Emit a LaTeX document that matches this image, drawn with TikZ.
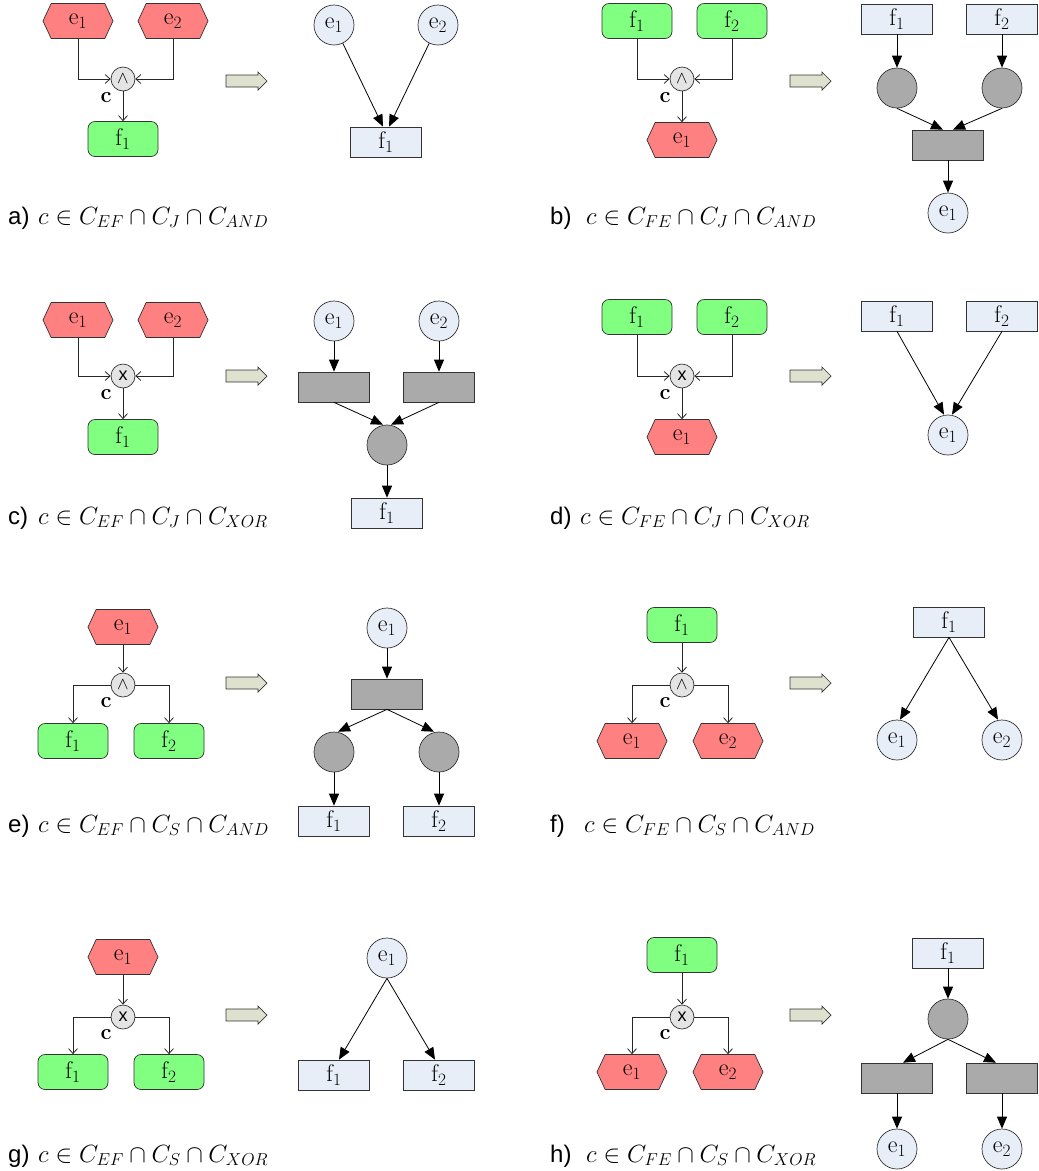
\documentclass[tikz,border=0pt]{standalone}
\usepackage{fontspec}
\newfontfamily\arial{Liberation Sans}
\usetikzlibrary{shapes.symbols,arrows.meta,calc}
\definecolor{pl}{HTML}{E8EEF8}
\definecolor{gr}{HTML}{AAAAAA}
\definecolor{hexred}{HTML}{FF8080}
\definecolor{fgreen}{HTML}{80FF80}
\definecolor{cgray}{HTML}{E4E4E4}
\definecolor{arrf}{HTML}{DDE1CD}
\begin{document}
\begin{tikzpicture}[x=1pt,y=-1pt,
  nfont/.style={font=\fontsize{24}{28}\selectfont},
  hexa/.style={shape=signal, signal to=east and west, signal pointer angle=130, draw=black!80, line width=0.7pt, fill=hexred, minimum width=70pt, minimum height=35pt, inner sep=0pt, nfont},
  func/.style={rectangle, rounded corners=7pt, draw=black!80, line width=0.7pt, fill=fgreen, minimum width=70pt, minimum height=35pt, inner sep=0pt, nfont},
  conn/.style={circle, draw=black!80, line width=0.7pt, fill=cgray, minimum size=24pt, inner sep=0pt, font=\fontsize{18}{20}\selectfont},
  place/.style={circle, draw=black!80, line width=0.7pt, fill=pl, minimum size=40pt, inner sep=0pt, nfont},
  gplace/.style={place, fill=gr},
  trans/.style={rectangle, draw=black!80, line width=0.7pt, fill=pl, minimum width=71pt, minimum height=30pt, inner sep=0pt, nfont},
  gtrans/.style={trans, fill=gr},
  clab/.style={inner sep=0pt, font=\fontsize{22}{24}\selectfont\bfseries},
  larr/.style={draw=black!85, line width=0.8pt, -{Straight Barb[length=5pt,width=9pt]}},
  parr/.style={draw=black, line width=0.8pt, -{Triangle[length=12pt,width=10pt]}},
  lab/.style={anchor=base west, inner sep=0pt, font=\fontsize{24}{28}\selectfont},
  bigarr/.pic={\draw[fill=arrf, draw=black!80, line width=0.7pt] (-20,-6) -- (12,-6) -- (12,-9) -- (21,0) -- (12,9) -- (12,6) -- (-20,6) -- cycle;}
]
\useasboundingbox (0,0) rectangle (1039,1171);

% ---------- panel a ----------
\node[hexa] (a1) at (78,21) {$\mathrm{e}_1$};
\node[hexa] (a2) at (173,21) {$\mathrm{e}_2$};
\node[conn] (ac) at (123,79) {$\wedge$};
\node[func] (a3) at (123,139) {$\mathrm{f}_1$};
\node[clab] (acl) at (106,98) {c};
\draw[larr] (a1.south) |- (ac.west);
\draw[larr] (a2.south) |- (ac.east);
\draw[larr] (ac.south) -- (a3.north);
\pic at (246,81) {bigarr};
\node[place] (ap1) at (334,25) {$\mathrm{e}_1$};
\node[place] (ap2) at (438,25) {$\mathrm{e}_2$};
\node[trans] (at1) at (386,142) {$\mathrm{f}_1$};
\draw[parr] (ap1) -- ([xshift=-3pt]at1.north);
\draw[parr] (ap2) -- ([xshift=3pt]at1.north);
\node[lab] (la) at (8,224) {\arial a)};
\node[lab] (lam) at (38,224) {$c\in C_{EF}\cap C_J\cap C_{AND}$};

% ---------- panel b ----------
\node[func] (b1) at (637,21) {$\mathrm{f}_1$};
\node[func] (b2) at (732,21) {$\mathrm{f}_2$};
\node[conn] (bc) at (682,79) {$\wedge$};
\node[hexa] (b3) at (682,140) {$\mathrm{e}_1$};
\node[clab] (bcl) at (665,98) {c};
\draw[larr] (b1.south) |- (bc.west);
\draw[larr] (b2.south) |- (bc.east);
\draw[larr] (bc.south) -- (b3.north);
\pic at (810,81) {bigarr};
\node[trans] (bt1) at (897,19) {$\mathrm{f}_1$};
\node[trans] (bt2) at (1002,19) {$\mathrm{f}_2$};
\node[gplace] (bg1) at (897,88) {};
\node[gplace] (bg2) at (1002,88) {};
\node[gtrans] (bgt) at (948,145) {};
\node[place] (bp) at (948,213) {$\mathrm{e}_1$};
\draw[parr] (bt1) -- (bg1);
\draw[parr] (bt2) -- (bg2);
\draw[parr] (bg1.south) -- ([xshift=-5pt]bgt.north);
\draw[parr] (bg2.south) -- ([xshift=5pt]bgt.north);
\draw[parr] (bgt) -- (bp);
\node[lab] (lb) at (550,224) {\arial b)};
\node[lab] (lbm) at (586,224) {$c\in C_{FE}\cap C_J\cap C_{AND}$};

% ---------- panel c ----------
\node[hexa] (c1) at (78,320) {$\mathrm{e}_1$};
\node[hexa] (c2) at (173,320) {$\mathrm{e}_2$};
\node[conn] (cc) at (123,376) {\arial x};
\node[func] (c3) at (123,437) {$\mathrm{f}_1$};
\node[clab] (ccl) at (106,395) {c};
\draw[larr] (c1.south) |- (cc.west);
\draw[larr] (c2.south) |- (cc.east);
\draw[larr] (cc.south) -- (c3.north);
\pic at (246,376) {bigarr};
\node[place] (cp1) at (334,321) {$\mathrm{e}_1$};
\node[place] (cp2) at (439,321) {$\mathrm{e}_2$};
\node[gtrans] (ct1) at (334,387) {};
\node[gtrans] (ct2) at (439,387) {};
\node[gplace] (cg) at (387,445) {};
\node[trans] (cf) at (387,513) {$\mathrm{f}_1$};
\draw[parr] (cp1) -- (ct1);
\draw[parr] (cp2) -- (ct2);
\draw[parr] (ct1.south) -- ([xshift=-4pt]cg.north);
\draw[parr] (ct2.south) -- ([xshift=4pt]cg.north);
\draw[parr] (cg) -- (cf);
\node[lab] (lc) at (8,524) {\arial c)};
\node[lab] (lcm) at (38,524) {$c\in C_{EF}\cap C_J\cap C_{XOR}$};

% ---------- panel d ----------
\node[func] (d1) at (637,317) {$\mathrm{f}_1$};
\node[func] (d2) at (732,317) {$\mathrm{f}_2$};
\node[conn] (dc) at (682,376) {\arial x};
\node[hexa] (d3) at (682,437) {$\mathrm{e}_1$};
\node[clab] (dcl) at (665,395) {c};
\draw[larr] (d1.south) |- (dc.west);
\draw[larr] (d2.south) |- (dc.east);
\draw[larr] (dc.south) -- (d3.north);
\pic at (810,376) {bigarr};
\node[trans] (dt1) at (897,316) {$\mathrm{f}_1$};
\node[trans] (dt2) at (1002,316) {$\mathrm{f}_2$};
\node[place] (dp) at (948,435) {$\mathrm{e}_1$};
\draw[parr] (dt1.south) -- ([xshift=-4pt]dp.north);
\draw[parr] (dt2.south) -- ([xshift=4pt]dp.north);
\node[lab] (ld) at (550,524) {\arial d)};
\node[lab] (ldm) at (580,524) {$c\in C_{FE}\cap C_J\cap C_{XOR}$};

% ---------- panel e ----------
\node[hexa] (e1) at (123,627) {$\mathrm{e}_1$};
\node[conn] (ec) at (123,685) {$\wedge$};
\node[func] (e2) at (73,741) {$\mathrm{f}_1$};
\node[func] (e3) at (169,741) {$\mathrm{f}_2$};
\node[clab] (ecl) at (106,703) {c};
\draw[larr] (e1.south) -- (ec.north);
\draw[larr] (ec.west) -| (e2.north);
\draw[larr] (ec.east) -| (e3.north);
\pic at (246,683) {bigarr};
\node[place] (ep) at (387,628) {$\mathrm{e}_1$};
\node[gtrans] (et) at (387,694) {};
\node[gplace] (eg1) at (334,752) {};
\node[gplace] (eg2) at (439,752) {};
\node[trans] (ef1) at (334,821) {$\mathrm{f}_1$};
\node[trans] (ef2) at (439,821) {$\mathrm{f}_2$};
\draw[parr] (ep) -- (et);
\draw[parr] (et.south) -- ([xshift=4pt]eg1.north);
\draw[parr] (et.south) -- ([xshift=-5pt]eg2.north);
\draw[parr] (eg1) -- (ef1);
\draw[parr] (eg2) -- (ef2);
\node[lab] (le) at (8,832) {\arial e)};
\node[lab] (lem) at (38,832) {$c\in C_{EF}\cap C_S\cap C_{AND}$};

% ---------- panel f ----------
\node[func] (f1) at (682,625) {$\mathrm{f}_1$};
\node[conn] (fc) at (682,685) {$\wedge$};
\node[hexa] (f2) at (632,741) {$\mathrm{e}_1$};
\node[hexa] (f3) at (728,741) {$\mathrm{e}_2$};
\node[clab] (fcl) at (665,703) {c};
\draw[larr] (f1.south) -- (fc.north);
\draw[larr] (fc.west) -| (f2.north);
\draw[larr] (fc.east) -| (f3.north);
\pic at (810,683) {bigarr};
\node[trans] (ft) at (949,622) {$\mathrm{f}_1$};
\node[place] (fp1) at (897,740) {$\mathrm{e}_1$};
\node[place] (fp2) at (1002,740) {$\mathrm{e}_2$};
\draw[parr] (ft.south) -- ([xshift=3pt]fp1.north);
\draw[parr] (ft.south) -- ([xshift=-4pt]fp2.north);
\node[lab] (lf) at (550,832) {\arial f)};
\node[lab] (lfm) at (584,832) {$c\in C_{FE}\cap C_S\cap C_{AND}$};

% ---------- panel g ----------
\node[hexa] (g1) at (123,957) {$\mathrm{e}_1$};
\node[conn] (gc) at (123,1017) {\arial x};
\node[func] (g2) at (73,1072) {$\mathrm{f}_1$};
\node[func] (g3) at (169,1072) {$\mathrm{f}_2$};
\node[clab] (gcl) at (106,1035) {c};
\draw[larr] (g1.south) -- (gc.north);
\draw[larr] (gc.west) -| (g2.north);
\draw[larr] (gc.east) -| (g3.north);
\pic at (246,1015) {bigarr};
\node[place] (gp) at (387,958) {$\mathrm{e}_1$};
\node[trans] (gf1) at (334,1075) {$\mathrm{f}_1$};
\node[trans] (gf2) at (439,1075) {$\mathrm{f}_2$};
\draw[parr] (gp.south) -- ([xshift=5pt]gf1.north);
\draw[parr] (gp.south) -- ([xshift=-4pt]gf2.north);
\node[lab] (lg) at (8,1162) {\arial g)};
\node[lab] (lgm) at (38,1162) {$c\in C_{EF}\cap C_S\cap C_{XOR}$};

% ---------- panel h ----------
\node[func] (h1) at (682,955) {$\mathrm{f}_1$};
\node[conn] (hc) at (682,1017) {\arial x};
\node[hexa] (h2) at (632,1072) {$\mathrm{e}_1$};
\node[hexa] (h3) at (728,1072) {$\mathrm{e}_2$};
\node[clab] (hcl) at (665,1035) {c};
\draw[larr] (h1.south) -- (hc.north);
\draw[larr] (hc.west) -| (h2.north);
\draw[larr] (hc.east) -| (h3.north);
\pic at (810,1015) {bigarr};
\node[trans] (ht) at (948,953) {$\mathrm{f}_1$};
\node[gplace] (hg) at (948,1019) {};
\node[gtrans] (hgt1) at (897,1078) {};
\node[gtrans] (hgt2) at (1002,1078) {};
\node[place] (hp1) at (897,1149) {$\mathrm{e}_1$};
\node[place] (hp2) at (1002,1149) {$\mathrm{e}_2$};
\draw[parr] (ht) -- (hg);
\draw[parr] (hg.south) -- ([xshift=6pt]hgt1.north);
\draw[parr] (hg.south) -- ([xshift=-6pt]hgt2.north);
\draw[parr] (hgt1) -- (hp1);
\draw[parr] (hgt2) -- (hp2);
\node[lab] (lh) at (550,1162) {\arial h)};
\node[lab] (lhm) at (586,1162) {$c\in C_{FE}\cap C_S\cap C_{XOR}$};
\end{tikzpicture}
\end{document}
